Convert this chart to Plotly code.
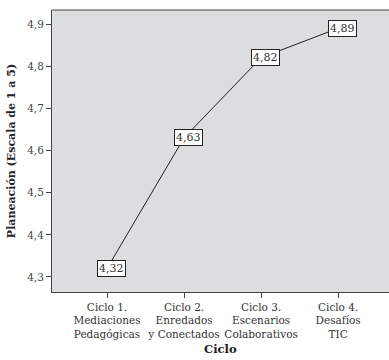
import plotly.graph_objects as go

ciclos = [
    "Ciclo 1.<br>Mediaciones<br>Pedagógicas",
    "Ciclo 2.<br>Enredados<br>y Conectados",
    "Ciclo 3.<br>Escenarios<br>Colaborativos",
    "Ciclo 4.<br>Desafíos<br>TIC",
]
planeacion = [4.32, 4.63, 4.82, 4.89]
y_ticks = [4.3, 4.4, 4.5, 4.6, 4.7, 4.8, 4.9]

FONT = "DejaVu Serif"
AXIS_COLOR = "#444444"

fig = go.Figure()
fig.add_trace(go.Scatter(
    x=ciclos, y=planeacion, mode="lines",
    line=dict(color="#222222", width=1),
    hoverinfo="skip", showlegend=False,
))

# value labels in white boxes on each point
for c, v in zip(ciclos, planeacion):
    fig.add_annotation(
        x=c, y=v, text=f"{v:.2f}".replace(".", ","), showarrow=False,
        xshift=4,
        font=dict(family=FONT, size=11, color="#333333"),
        bgcolor="white", bordercolor="#222222", borderwidth=1, borderpad=1,
    )

fig.update_layout(
    width=389, height=360,
    margin=dict(l=52, r=0, t=10, b=68),
    paper_bgcolor="white", plot_bgcolor="#DCDDDF",
    separators=",.",
    font=dict(family=FONT, size=11, color="#333333"),
)
fig.update_xaxes(
    type="category", range=[-0.714, 3.66],
    showgrid=False, zeroline=False,
    showline=True, linecolor=AXIS_COLOR, linewidth=1, mirror=False,
    ticks="outside", ticklen=5, tickcolor=AXIS_COLOR,
    tickfont=dict(family=FONT, size=10.5, color="#333333"),
)
fig.update_yaxes(
    range=[4.2644, 4.9332], tickvals=y_ticks, tickformat=".1f",
    showgrid=False, zeroline=False,
    showline=True, linecolor=AXIS_COLOR, linewidth=1, mirror=False,
    ticks="outside", ticklen=5, tickcolor=AXIS_COLOR,
    tickfont=dict(family=FONT, size=10.5, color="#444444"),
    title=dict(text="<b>Planeación (Escala de 1 a 5)</b>", font=dict(family=FONT, size=11, color="#222222"), standoff=9),
)
# x-axis title placed below the multi-line category labels
fig.add_annotation(
    xref="paper", yref="paper", x=0.5, y=0, yshift=-57, yanchor="middle",
    text="<b>Ciclo</b>", showarrow=False,
    font=dict(family=FONT, size=11.5, color="#222222"),
)
# top frame line of the plot area
fig.add_shape(type="line", xref="paper", yref="paper", x0=0, x1=1, y0=1, y1=1,
              line=dict(color=AXIS_COLOR, width=1))

fig.write_html("out.html")
